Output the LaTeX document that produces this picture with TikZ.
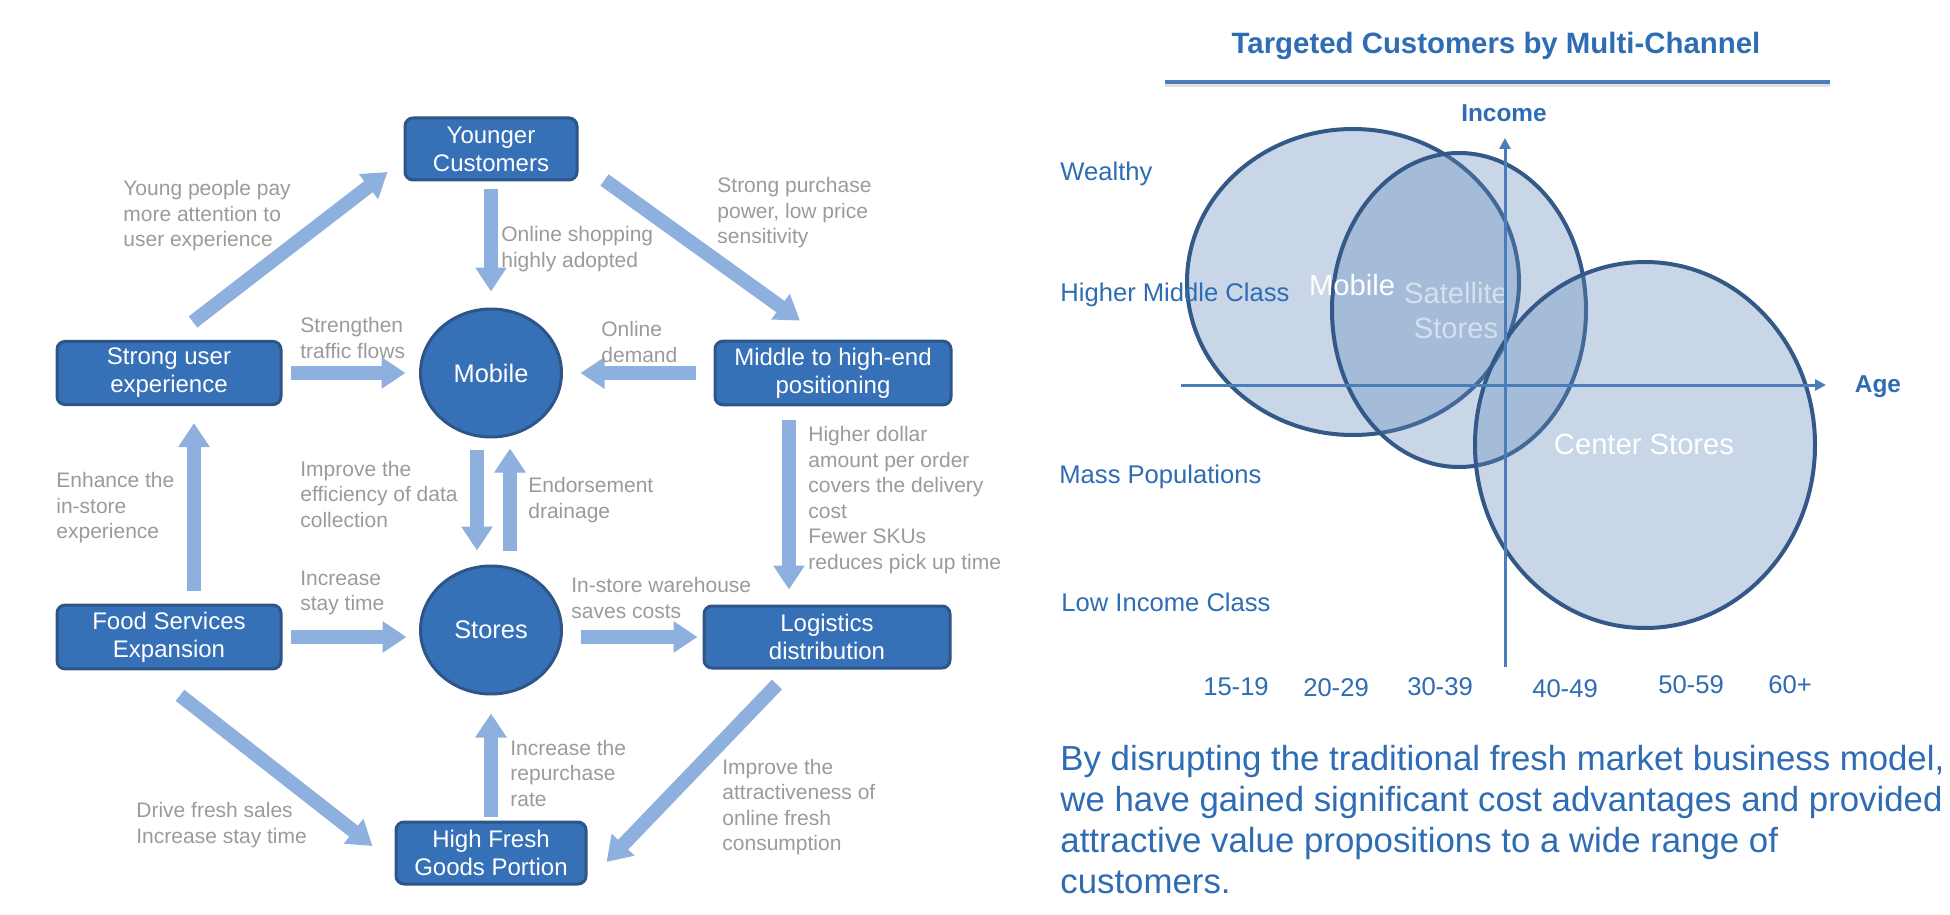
\documentclass[tikz,border=0pt]{standalone}
\usepackage{fontspec}
\setmainfont{Liberation Sans}
\usetikzlibrary{shapes.geometric, arrows.meta}

\definecolor{boxblue}{RGB}{54,112,183}
\definecolor{boxedge}{RGB}{46,85,135}
\definecolor{flowblue}{RGB}{142,176,222}
\definecolor{notegray}{RGB}{155,155,155}
\definecolor{chartblue}{RGB}{46,108,180}
\definecolor{axisblue}{RGB}{74,126,187}
\definecolor{ringedge}{RGB}{52,88,136}
\definecolor{ringfill}{RGB}{96,139,188}

\tikzstyle{block} = [rectangle, rounded corners=4pt, 
draw=boxedge, line width=1.5pt, 
fill=boxblue, text=white, 
minimum height=31pt, 
align=center, 
font=\fontsize{12}{14}\selectfont]
\tikzstyle{hub} = [ellipse, 
draw=boxedge, line width=1.5pt, 
fill=boxblue, text=white, 
minimum width=70.5pt, 
minimum height=64pt, 
font=\fontsize{12.7}{15}\selectfont]
\tikzstyle{note} = [anchor=west, align=left, inner sep=0pt, 
text=notegray, 
font=\fontsize{10.5}{12.75}\selectfont]
\tikzstyle{flow} = [draw=flowblue, line width=7pt, 
-{Triangle[width=15pt,length=12pt]}]
\tikzstyle{ring} = [draw=ringedge, line width=2pt, 
fill=ringfill, fill opacity=0.345]
\tikzstyle{axisline} = [draw=axisblue, line width=1.5pt, 
-{Triangle[width=5.5pt,length=5.5pt]}]
\tikzstyle{classlabel} = [anchor=west, inner sep=0pt, text=chartblue, 
font=\fontsize{12.8}{15}\selectfont]
\tikzstyle{agelabel} = [inner sep=0pt, text=chartblue, 
font=\fontsize{12.8}{15}\selectfont]
\tikzstyle{ringlabel} = [inner sep=0pt, align=center, 
font=\fontsize{14.6}{17.5}\selectfont]

\begin{document}
\begin{tikzpicture}[x=0.5pt, y=-0.5pt]

\path [use as bounding box, fill=white] (0,0) rectangle (1950,915);

\node (young) [block, minimum width=86pt] at (491,149) {Younger\\Customers};
\node (strong) [block, minimum width=112pt] at (169,373) {Strong user\\experience};
\node (mobile) [hub] at (491,373) {Mobile};
\node (middle) [block, minimum width=118pt] at (833,373) {Middle to high-end\\positioning};
\node (food) [block, minimum width=112pt] at (169,637) {Food Services\\Expansion};
\node (stores) [hub] at (491,630) {Stores};
\node (logistics) [block, minimum width=123pt] at (827,637) {Logistics\\distribution};
\node (fresh) [block, minimum width=95pt] at (491,853) {High Fresh\\Goods Portion};

\draw [flow] ([xshift=12pt,yshift=9pt]strong.north) -- ([xshift=-8pt,yshift=-11.5pt]young.west);
\draw [flow, shorten <=3.75pt, shorten >=8pt] (young) -- (mobile);
\draw [flow] ([xshift=13pt,yshift=-15.5pt]young.east) -- ([xshift=-16.5pt,yshift=9.5pt]middle.north);
\draw [flow, shorten <=4pt, shorten >=6.75pt] (strong) -- (mobile);
\draw [flow, shorten <=9pt, shorten >=8.75pt] (middle) -- (mobile);
\draw [flow, shorten <=6.5pt, shorten >=8.5pt] ([xshift=12.5pt]food.north) -- ([xshift=12.5pt]strong.south);
\draw [flow, shorten <=5.5pt, shorten >=7pt] ([xshift=-7pt]mobile.south) -- ([xshift=-7pt]stores.north);
\draw [flow, shorten <=7pt, shorten >=5pt] ([xshift=9.5pt]stores.north) -- ([xshift=9.5pt]mobile.south);
\draw [flow, shorten <=7pt, shorten >=7.5pt] ([xshift=-22pt]middle.south) -- ([xshift=-19pt]logistics.north);
\draw [flow, shorten <=4pt, shorten >=6.25pt] (food.east) -- (food.east -| stores.west);
\draw [flow, shorten <=8.75pt, shorten >=2.5pt] (stores.east |- logistics.west) -- (logistics.west);
\draw [flow, shorten <=2pt, shorten >=9pt] (fresh) -- (stores);
\draw [flow] ([xshift=5.5pt,yshift=-12.5pt]food.south) -- ([xshift=-11pt,yshift=3.5pt]fresh.west);
\draw [flow] ([xshift=-25pt,yshift=-7.5pt]logistics.south) -- ([xshift=9.5pt,yshift=-4.5pt]fresh.east);

\node (nAttention) [note] at (123,216) {Young people pay\\more attention to\\user experience};
\node (nOnline) [note] at (501,249) {Online shopping\\highly adopted};
\node (nPurchase) [note] at (717,213) {Strong purchase\\power, low price\\sensitivity};
\node (nTraffic) [note] at (300,338) {Strengthen\\traffic flows};
\node (nDemand) [note] at (601,342) {Online\\demand};
\node (nData) [note] at (300,494) {Improve the\\efficiency of data\\collection};
\node (nEndorse) [note] at (528,500) {Endorsement\\drainage};
\node (nInstore) [note] at (56,508) {Enhance the\\in-store\\experience};
\node (nDollar) [note] at (808,500) {Higher dollar\\amount per order\\covers the delivery\\cost\\Fewer SKUs\\reduces pick up time};
\node (nStay) [note] at (300,593) {Increase\\stay time};
\node (nWarehouse) [note] at (571,598) {In-store warehouse\\saves costs};
\node (nRepurchase) [note] at (510,773) {Increase the\\repurchase\\rate};
\node (nSales) [note] at (136,825) {Drive fresh sales\\Increase stay time};
\node (nAttract) [note] at (722,807) {Improve the\\attractiveness of\\online fresh\\consumption};

\node (title) [text=chartblue, font=\fontsize{14.7}{17}\selectfont\bfseries] at (1496,46) {Targeted Customers by Multi-Channel};
\draw [line width=1.5pt, black!12] (1165,86) -- (1830,86);
\draw [line width=2pt, axisblue] (1165,82) -- (1830,82);

\draw [ring] (1353,282) ellipse [x radius=83pt, y radius=76.5pt];
\draw [ring] (1459,310) ellipse [x radius=63.5pt, y radius=78.5pt];
\draw [ring] (1645,445) ellipse [x radius=85pt, y radius=91.5pt];

\node (lMobile) [ringlabel, text=white] at (1352,285) {Mobile};
\node (lSatellite) [ringlabel, text=white, text opacity=0.55] at (1456,311) {Satellite\\Stores};
\node (lCenter) [ringlabel, text=white] at (1644,444) {Center Stores};

\draw [axisline] (1181,385) -- (1826,385);
\draw [axisline] (1505,667) -- (1505,138);
\node (income) [text=chartblue, font=\fontsize{12.2}{15}\selectfont\bfseries] at (1504,113) {Income};
\node (age) [text=chartblue, font=\fontsize{12.2}{15}\selectfont\bfseries] at (1878,387) {Age};

\node (wealthy) [classlabel] at (1060,174) {Wealthy};
\node (upper) [classlabel] at (1060,295) {Higher Middle Class};
\node (mass) [classlabel] at (1059,477) {Mass Populations};
\node (low) [classlabel] at (1061,602) {Low Income Class};

\node (a15) [agelabel] at (1236,687) {15-19};
\node (a20) [agelabel] at (1336,688) {20-29};
\node (a30) [agelabel] at (1440,687) {30-39};
\node (a40) [agelabel] at (1565,689) {40-49};
\node (a50) [agelabel] at (1691,685) {50-59};
\node (a60) [agelabel] at (1790,685) {60+};

\node (summary) [anchor=west, align=left, inner sep=0pt, text=chartblue, font=\fontsize{17.4}{20.5}\selectfont] at (1060,820) {By disrupting the traditional fresh market business model,\\we have gained significant cost advantages and provided\\attractive value propositions to a wide range of\\customers.};

\end{tikzpicture}
\end{document}
